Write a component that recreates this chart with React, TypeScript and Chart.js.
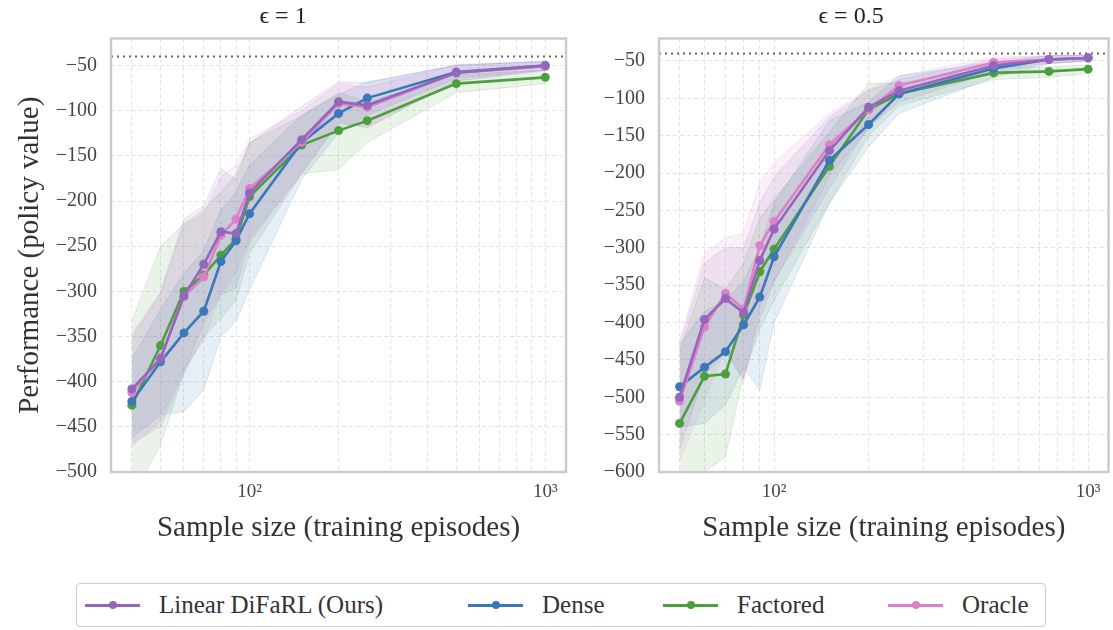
import React, { useEffect, useRef } from 'react';
import { Chart, registerables } from 'chart.js';

Chart.register(...registerables);

// ---------------- data ----------------
const seriesNames = ['Linear DiFaRL (Ours)', 'Dense', 'Factored', 'Oracle'];
const seriesColors = ['#9467bd', '#3a78b8', '#4c9f3e', '#df7fca'];
const optimalValue = -40;

// epsilon = 1
const leftSampleSizes = [40, 50, 60, 70, 80, 90, 100, 150, 200, 250, 500, 1000];
const leftLinearMean = [-408, -375, -305, -270, -234, -236, -191, -132, -90, -94, -58, -50];
const leftLinearUpper = [-348, -300, -220, -205, -164, -176, -136, -95, -68, -69, -49, -45];
const leftLinearLower = [-468, -450, -390, -335, -304, -296, -246, -169, -112, -119, -67, -55];
const leftDenseMean = [-422, -378, -346, -322, -267, -244, -214, -135, -103, -86, -57, -50];
const leftDenseUpper = [-375, -320, -280, -255, -210, -190, -160, -105, -82, -68, -50, -45];
const leftDenseLower = [-462, -437, -433, -409, -350, -333, -298, -176, -124, -105, -64, -55];
const leftFactoredMean = [-426, -360, -300, -282, -260, -242, -195, -138, -122, -111, -70, -63];
const leftFactoredUpper = [-333, -250, -225, -210, -190, -170, -135, -106, -80, -90, -60, -55];
const leftFactoredLower = [-530, -470, -390, -350, -330, -310, -258, -170, -165, -135, -80, -70];
const leftOracleMean = [-412, -373, -306, -284, -238, -220, -186, -135, -92, -96, -58, -51];
const leftOracleUpper = [-352, -303, -226, -214, -173, -160, -131, -100, -70, -74, -49, -46];
const leftOracleLower = [-472, -443, -386, -354, -303, -280, -241, -170, -114, -118, -67, -56];

// epsilon = 0.5
const rightSampleSizes = [50, 60, 70, 80, 90, 100, 150, 200, 250, 500, 750, 1000];
const rightLinearMean = [-500, -396, -368, -387, -317, -275, -170, -112, -90, -56, -48, -46];
const rightLinearUpper = [-430, -320, -300, -300, -240, -205, -125, -90, -75, -48, -43, -42];
const rightLinearLower = [-570, -470, -440, -475, -395, -345, -220, -138, -105, -65, -53, -50];
const rightDenseMean = [-486, -460, -439, -403, -366, -312, -183, -135, -94, -60, -48, -46];
const rightDenseUpper = [-430, -385, -370, -345, -300, -240, -130, -105, -70, -52, -43, -42];
const rightDenseLower = [-540, -535, -510, -460, -490, -400, -240, -165, -120, -72, -54, -50];
const rightFactoredMean = [-535, -472, -469, -390, -332, -302, -191, -115, -94, -66, -64, -61];
const rightFactoredUpper = [-440, -340, -355, -320, -260, -235, -145, -80, -80, -58, -58, -55];
const rightFactoredLower = [-630, -600, -580, -470, -410, -370, -240, -150, -110, -75, -72, -67];
const rightOracleMean = [-505, -406, -361, -382, -297, -265, -162, -115, -83, -52, -48, -46];
const rightOracleUpper = [-425, -307, -287, -280, -213, -186, -120, -88, -70, -45, -43, -42];
const rightOracleLower = [-585, -505, -435, -480, -380, -345, -205, -140, -96, -60, -53, -50];

// axes
const leftXLimits = [34, 1175];
const rightXLimits = [43, 1161];
const leftYLimits = [-500, -20];
const rightYLimits = [-600, -20];
const leftXGrid = [40, 50, 60, 70, 80, 90, 100, 200, 300, 400, 500, 600, 700, 800, 900, 1000];
const rightXGrid = [50, 60, 70, 80, 90, 100, 200, 300, 400, 500, 600, 700, 800, 900, 1000];
const xTickLabels: Record<number, string> = { 100: '10²', 1000: '10³' };
const leftYTicks = [-500, -450, -400, -350, -300, -250, -200, -150, -100, -50];
const rightYTicks = [-600, -550, -500, -450, -400, -350, -300, -250, -200, -150, -100, -50];

const FONT = '"Liberation Serif", "DejaVu Serif", serif';

function rgba(hex: string, a: number) {
  const n = parseInt(hex.slice(1), 16);
  return `rgba(${(n >> 16) & 255},${(n >> 8) & 255},${n & 255},${a})`;
}

type Series = { mean: number[]; upper: number[]; lower: number[] };

const framePlugin = {
  id: 'frame',
  afterDatasetsDraw(chart: any, _args: any, opts: any) {
    const { ctx, chartArea: a, scales } = chart;
    const y = scales.y.getPixelForValue(opts.optimal);
    ctx.save();
    ctx.strokeStyle = '#666';
    ctx.lineWidth = 2;
    ctx.setLineDash([2, 4]);
    ctx.beginPath();
    ctx.moveTo(a.left, y);
    ctx.lineTo(a.right, y);
    ctx.stroke();
    ctx.setLineDash([]);
    ctx.strokeStyle = '#cccccc';
    ctx.lineWidth = 2.5;
    ctx.strokeRect(a.left, a.top, a.right - a.left, a.bottom - a.top);
    ctx.restore();
  },
};

function makeConfig(
  title: string,
  xs: number[],
  series: Series[],
  xLim: number[],
  yLim: number[],
  xGrid: number[],
  yTicks: number[],
  yAxisWidth: number,
  showYTitle: boolean,
  padRight: number
): any {
  const datasets: any[] = [];
  series.forEach((s, i) => {
    const c = seriesColors[i];
    datasets.push({
      label: seriesNames[i] + ' low',
      data: xs.map((x, k) => ({ x, y: s.lower[k] })),
      borderColor: rgba(c, 0.16),
      borderWidth: 1,
      pointRadius: 0,
      fill: false,
      order: 20 + i,
    });
    datasets.push({
      label: seriesNames[i] + ' high',
      data: xs.map((x, k) => ({ x, y: s.upper[k] })),
      borderColor: rgba(c, 0.16),
      backgroundColor: rgba(c, 0.12),
      borderWidth: 1,
      pointRadius: 0,
      fill: '-1',
      order: 20 + i,
    });
  });
  const lineOrder = [0, 2, 3, 1]; // lower number = drawn on top
  series.forEach((s, i) => {
    const c = seriesColors[i];
    datasets.push({
      label: seriesNames[i],
      data: xs.map((x, k) => ({ x, y: s.mean[k] })),
      borderColor: c,
      backgroundColor: c,
      pointBackgroundColor: c,
      pointBorderWidth: 0,
      pointRadius: 4.5,
      borderWidth: 2.6,
      fill: false,
      order: lineOrder[i],
    });
  });

  return {
    type: 'line',
    data: { datasets },
    plugins: [framePlugin],
    options: {
      animation: false,
      responsive: false,
      layout: { padding: { left: 0, right: padRight, top: 0, bottom: 0 } },
      plugins: {
        legend: { display: false },
        tooltip: { enabled: false },
        title: {
          display: true,
          text: title,
          color: '#222',
          font: { family: FONT, size: 24, weight: 'normal' },
          padding: { top: 2, bottom: 7.7 },
        },
        frame: { optimal: optimalValue },
      },
      scales: {
        x: {
          type: 'logarithmic',
          min: xLim[0],
          max: xLim[1],
          afterBuildTicks: (scale: any) => {
            scale.ticks = xGrid.map((v) => ({ value: v }));
          },
          afterFit: (scale: any) => {
            scale.height = 88;
          },
          grid: { color: '#e2e2e2', lineWidth: 1, drawTicks: false },
          border: { display: false, dash: [4, 3] },
          ticks: {
            autoSkip: false,
            maxRotation: 0,
            padding: 9,
            color: '#444',
            font: { family: FONT, size: 19 },
            callback: (v: any) => xTickLabels[Number(v)] || '',
          },
          title: {
            display: true,
            text: 'Sample size (training episodes)',
            color: '#333',
            font: { family: FONT, size: 29 },
            padding: { top: 0, bottom: 14.6 },
          },
        },
        y: {
          type: 'linear',
          min: yLim[0],
          max: yLim[1],
          afterBuildTicks: (scale: any) => {
            scale.ticks = yTicks.map((v) => ({ value: v }));
          },
          afterFit: (scale: any) => {
            scale.width = yAxisWidth;
          },
          grid: { color: '#e2e2e2', lineWidth: 1, drawTicks: false },
          border: { display: false, dash: [4, 3] },
          ticks: {
            padding: 14,
            color: '#444',
            font: { family: FONT, size: 20 },
            callback: (v: any) => (Number(v) < 0 ? '\u2212' + Math.abs(Number(v)) : String(v)),
          },
          title: {
            display: showYTitle,
            text: 'Performance (policy value)',
            color: '#333',
            font: { family: FONT, size: 29 },
            padding: { top: 12.6, bottom: 0 },
          },
        },
      },
    },
  };
}

function Panel(props: { left: number; width: number; height: number; build: () => any }) {
  const ref = useRef<HTMLCanvasElement>(null);
  useEffect(() => {
    const chart = new Chart(ref.current as HTMLCanvasElement, props.build());
    return () => chart.destroy();
  }, []);
  return (
    <canvas
      ref={ref}
      width={props.width}
      height={props.height}
      style={{ position: 'absolute', left: props.left, top: 0, width: props.width, height: props.height }}
    />
  );
}

const legendEntries = [
  { left: 85 },
  { left: 468 },
  { left: 663 },
  { left: 888 },
];

export default function App() {
  useEffect(() => {
    document.body.style.margin = '0';
    document.body.style.overflow = 'hidden';
  }, []);

  const leftSeries: Series[] = [
    { mean: leftLinearMean, upper: leftLinearUpper, lower: leftLinearLower },
    { mean: leftDenseMean, upper: leftDenseUpper, lower: leftDenseLower },
    { mean: leftFactoredMean, upper: leftFactoredUpper, lower: leftFactoredLower },
    { mean: leftOracleMean, upper: leftOracleUpper, lower: leftOracleLower },
  ];
  const rightSeries: Series[] = [
    { mean: rightLinearMean, upper: rightLinearUpper, lower: rightLinearLower },
    { mean: rightDenseMean, upper: rightDenseUpper, lower: rightDenseLower },
    { mean: rightFactoredMean, upper: rightFactoredUpper, lower: rightFactoredLower },
    { mean: rightOracleMean, upper: rightOracleUpper, lower: rightOracleLower },
  ];

  return (
    <div style={{ position: 'relative', width: 1113, height: 630, background: '#fff', overflow: 'hidden' }}>
      <Panel
        left={0}
        width={578}
        height={560}
        build={() =>
          makeConfig('ϵ = 1', leftSampleSizes, leftSeries, leftXLimits, leftYLimits, leftXGrid, leftYTicks, 111, true, 12)
        }
      />
      <Panel
        left={590}
        width={523}
        height={560}
        build={() =>
          makeConfig('ϵ = 0.5', rightSampleSizes, rightSeries, rightXLimits, rightYLimits, rightXGrid, rightYTicks, 69, false, 1)
        }
      />
      <div
        style={{
          position: 'absolute',
          left: 76,
          top: 583,
          width: 968,
          height: 42,
          border: '1.5px solid #cccccc',
          borderRadius: 4,
          boxSizing: 'content-box',
        }}
      />
      {legendEntries.map((e, i) => (
        <div
          key={i}
          style={{
            position: 'absolute',
            left: e.left,
            top: 588,
            height: 34,
            display: 'flex',
            alignItems: 'center',
            fontFamily: FONT,
            fontSize: 25,
            color: '#333',
            whiteSpace: 'nowrap',
          }}
        >
          <div style={{ position: 'relative', width: 55, height: 3, background: seriesColors[i], marginRight: 19 }}>
            <div
              style={{
                position: 'absolute',
                left: 23.5,
                top: -2.5,
                width: 8,
                height: 8,
                borderRadius: 4,
                background: seriesColors[i],
              }}
            />
          </div>
          <span>{seriesNames[i]}</span>
        </div>
      ))}
    </div>
  );
}
